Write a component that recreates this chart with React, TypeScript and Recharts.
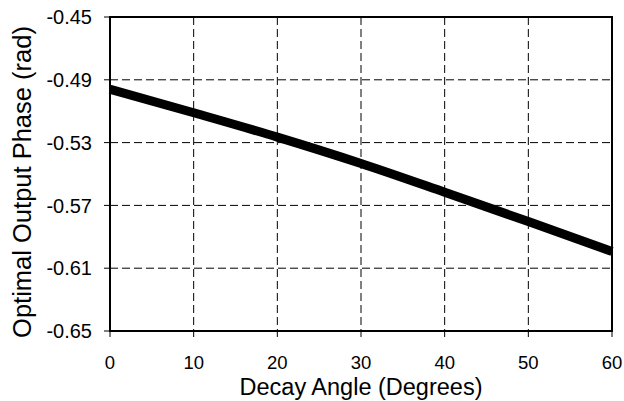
import { LineChart, Line, XAxis, YAxis, CartesianGrid, ReferenceArea, Label } from 'recharts'

// decay angle (degrees) vs optimal output phase (rad)
const angles = [0, 10, 20, 30, 40, 50, 60]
const phases = [-0.496, -0.511, -0.5265, -0.5433, -0.5616, -0.5803, -0.5993]

const xTicks = [0, 10, 20, 30, 40, 50, 60]
const yTicks = [-0.65, -0.61, -0.57, -0.53, -0.49, -0.45]

const data = angles.map((a, i) => ({ angle: a, phase: phases[i] }))

const FONT = '"Liberation Sans", Arial, sans-serif'

function YTitle({ viewBox }: any) {
  const cx = viewBox.x - 28
  const cy = viewBox.y + viewBox.height / 2 + 8
  return (
    <text
      x={cx}
      y={cy}
      transform={`rotate(-90, ${cx}, ${cy})`}
      textAnchor="middle"
      dominantBaseline="central"
      fontSize={25.5}
      fontFamily={FONT}
      fill="#000"
    >
      Optimal Output Phase (rad)
    </text>
  )
}

export default function App() {
  return (
    <div style={{ position: 'absolute', left: 0, top: 0, background: '#fff' }}>
      <LineChart
        width={624}
        height={401}
        data={data}
        margin={{ top: 17, right: 12, bottom: 30, left: 50 }}
      >
        <CartesianGrid stroke="#000" strokeDasharray="8 4" strokeWidth={1} />
        <XAxis
          dataKey="angle"
          type="number"
          domain={[0, 60]}
          ticks={xTicks}
          height={40}
          tickSize={6}
          tickMargin={19}
          axisLine={{ stroke: '#000', strokeWidth: 2 }}
          tickLine={{ stroke: '#000' }}
          tick={{ fill: '#000', fontSize: 18.5, fontFamily: FONT }}
        >
          <Label
            value="Decay Angle (Degrees)"
            position="bottom"
            offset={7}
            style={{ fontSize: 23.5, fontFamily: FONT, fill: '#000' }}
          />
        </XAxis>
        <YAxis
          type="number"
          domain={[-0.65, -0.45]}
          ticks={yTicks}
          width={60}
          tickSize={6}
          tickMargin={12}
          tickFormatter={(v: number) => v.toFixed(2)}
          axisLine={{ stroke: '#000', strokeWidth: 2 }}
          tickLine={{ stroke: '#000' }}
          tick={{ fill: '#000', fontSize: 20, fontFamily: FONT }}
        >
          <Label content={<YTitle />} />
        </YAxis>
        <ReferenceArea
          x1={0}
          x2={60}
          y1={-0.65}
          y2={-0.45}
          fill="none"
          stroke="#000"
          strokeWidth={2}
          fillOpacity={0}
        />
        <Line
          dataKey="phase"
          type="monotone"
          stroke="#000"
          strokeWidth={9}
          dot={false}
          activeDot={false}
          isAnimationActive={false}
        />
      </LineChart>
    </div>
  )
}
